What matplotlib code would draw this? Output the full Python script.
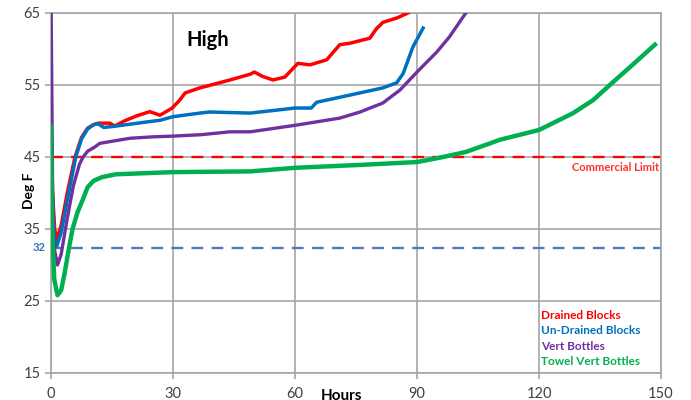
import matplotlib
matplotlib.use("Agg")
import matplotlib.pyplot as plt

plt.rcParams['font.family'] = ['Lato', 'DejaVu Sans']

# Temperature (deg F) vs hours
drained_t = [0, 0.4, 0.9, 1.4, 2.5, 4, 5.9, 7.5, 9, 10.5, 11.6, 14.5, 15.7, 18, 21,
             24.3, 26.8, 29.8, 31.5, 33, 36.6, 40, 44, 49, 50, 52, 54.6, 57.5, 60.7,
             63.7, 67.8, 71, 73.5, 78.4, 80, 81.6, 85, 87.8, 90]
drained_v = [48, 40, 35, 33.5, 35.5, 40, 45, 47.7, 49.0, 49.5, 49.7, 49.7, 49.3, 50.0,
             50.7, 51.3, 50.8, 51.8, 52.8, 53.9, 54.6, 55.1, 55.7, 56.5, 56.8, 56.2,
             55.7, 56.1, 58.0, 57.8, 58.5, 60.6, 60.8, 61.5, 62.8, 63.7, 64.3, 65, 66]

undrained_t = [0, 0.3, 0.8, 1.4, 2.5, 4, 6.1, 7.5, 9, 10.5, 11.6, 13, 16, 20, 24,
               26.8, 30, 36.6, 39, 49, 60, 64, 65.3, 73.5, 81.6, 85, 86.6, 89, 91.5]
undrained_v = [50, 40, 34, 32.6, 34.5, 39, 45, 47.5, 48.9, 49.5, 49.6, 49.1, 49.3,
               49.6, 49.9, 50.1, 50.6, 51.1, 51.25, 51.1, 51.8, 51.8, 52.6, 53.6,
               54.6, 55.3, 56.6, 60.3, 62.9]

vert_t = [0, 0.4, 0.9, 1.6, 2.5, 4, 5.5, 7, 7.9, 9, 10.8, 12, 19.4, 25, 30, 37, 44,
          49, 60, 71, 76, 81.6, 85.8, 90, 94.9, 98, 102, 104]
vert_v = [68, 40, 32, 30, 31.5, 36.5, 41, 44, 45, 45.8, 46.4, 46.9, 47.6, 47.8, 47.9,
          48.1, 48.5, 48.5, 49.4, 50.4, 51.25, 52.5, 54.3, 56.8, 59.6, 61.7, 65, 66]

towel_t = [0, 0.3, 0.8, 1.6, 2.5, 3.4, 4.3, 5.3, 6.5, 7.9, 9, 10.5, 12.5, 16, 30, 49,
           60, 76, 90, 95.6, 102, 108, 110.4, 120, 128.4, 133.3, 138, 143, 148.5]
towel_v = [49.2, 35, 28, 25.8, 26.5, 29, 32, 35, 37.3, 39.2, 40.8, 41.7, 42.2, 42.6,
           42.9, 43.0, 43.5, 43.9, 44.3, 44.9, 45.7, 46.9, 47.4, 48.75, 51.1, 52.9,
           55.3, 57.8, 60.6]

series_names = ["Drained Blocks", "Un-Drained Blocks", "Vert Bottles", "Towel Vert Bottles"]
series_colors = ["#ff0000", "#0070c0", "#7030a0", "#00b050"]

commercial_limit = 45
freeze_line = 32.4
x_ticks = [0, 30, 60, 90, 120, 150]
y_ticks = [15, 25, 35, 45, 55, 65]

fig = plt.figure(figsize=(6.91, 4.0), dpi=100)
ax = fig.add_axes([51 / 691, 1 - 373 / 400, 610 / 691, 360 / 400])

ax.set_xlim(0, 150)
ax.set_ylim(15, 65)
ax.set_xticks(x_ticks)
ax.set_yticks(y_ticks)
ax.grid(True, color="#a6a6a6", lw=1.2)
ax.set_axisbelow(True)
for side in ["left", "bottom", "right", "top"]:
    ax.spines[side].set_color("#a6a6a6")
    ax.spines[side].set_linewidth(1.2)
ax.tick_params(axis="both", colors="#a6a6a6", length=4, width=1.2,
               labelcolor="#404040", labelsize=10.5)
ax.tick_params(axis="x", pad=6)

# reference lines
ax.axhline(commercial_limit, color="#ff0000", lw=1.7, ls=(0, (5, 3.5)), zorder=2)
ax.axhline(freeze_line, color="#4a7ebb", lw=1.7, ls=(0, (5, 3.5)), zorder=2)

ax.plot(drained_t, drained_v, color=series_colors[0], lw=2.5, zorder=3)
ax.plot(undrained_t, undrained_v, color=series_colors[1], lw=2.5, zorder=4)
ax.plot(vert_t, vert_v, color=series_colors[2], lw=2.4, zorder=5)
ax.plot(towel_t, towel_v, color=series_colors[3], lw=3.2, zorder=6)

ax.text(38.5, 61.3, "High", fontsize=14.5, fontweight="bold", ha="center", va="center",
        color="#000000")
ax.text(149.5, 43.6, "Commercial Limit", fontsize=8, fontweight="bold",
        color="#ff3030", ha="right", va="center")
ax.text(-1.3, freeze_line, "32", fontsize=8, fontweight="bold", color="#2e75b6",
        ha="right", va="center")

# legend as coloured text
for i, (name, col) in enumerate(zip(series_names, series_colors)):
    ax.text(120.5, 23.05 - i * 2.17, name, fontsize=8.5, fontweight="bold", color=col,
            ha="left", va="center")

ax.text(-5.3, 40.3, "Deg F", rotation=90, fontsize=10, fontweight="bold",
        ha="center", va="center")
ax.text(71.5, 12.8, "Hours", fontsize=11, fontweight="bold", ha="center", va="top",
        clip_on=False)

fig.savefig("out.png", dpi=100)
